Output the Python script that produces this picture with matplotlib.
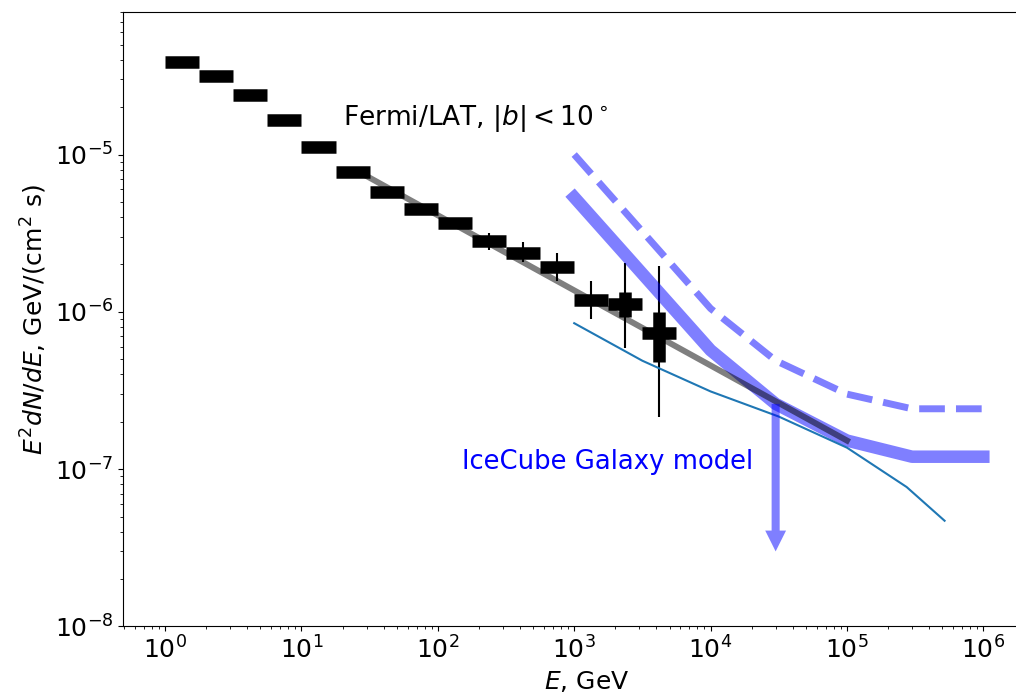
import numpy as np
import matplotlib
matplotlib.use("Agg")
import matplotlib.pyplot as plt

# Fermi/LAT, |b|<10 deg: 4 bins per decade from 1 GeV
bin_edges = [1.0, 1.78, 3.16, 5.62, 10.0, 17.8, 31.6, 56.2, 100.0, 178.0,
             316.0, 562.0, 1000.0, 1780.0, 3160.0, 5620.0]
flux = [3.90e-5, 3.15e-5, 2.39e-5, 1.65e-5, 1.12e-5, 7.8e-6, 5.82e-6, 4.49e-6,
        3.65e-6, 2.82e-6, 2.38e-6, 1.94e-6, 1.19e-6, 1.13e-6, 7.36e-7]
# total (thin) and statistical (thick) vertical errors
tot_lo = [3.90e-5, 3.15e-5, 2.39e-5, 1.65e-5, 1.12e-5, 7.8e-6, 5.82e-6, 4.49e-6,
          3.65e-6, 2.49e-6, 2.06e-6, 1.58e-6, 9.0e-7, 5.93e-7, 2.14e-7]
tot_hi = [3.90e-5, 3.15e-5, 2.39e-5, 1.65e-5, 1.12e-5, 7.8e-6, 5.82e-6, 4.49e-6,
          3.65e-6, 3.19e-6, 2.76e-6, 2.38e-6, 1.57e-6, 2.03e-6, 1.97e-6]
stat_lo = [3.90e-5, 3.15e-5, 2.39e-5, 1.65e-5, 1.12e-5, 7.8e-6, 5.82e-6, 4.49e-6,
           3.65e-6, 2.82e-6, 2.38e-6, 1.94e-6, 1.19e-6, 9.24e-7, 4.79e-7]
stat_hi = [3.90e-5, 3.15e-5, 2.39e-5, 1.65e-5, 1.12e-5, 7.8e-6, 5.82e-6, 4.49e-6,
           3.65e-6, 2.82e-6, 2.38e-6, 1.94e-6, 1.19e-6, 1.33e-6, 9.93e-7]

# power-law fit to Fermi data
fit_e = [30.0, 1.0e5]
fit_f = [7.3e-6, 1.52e-7]

# IceCube Galaxy model (solid) and 2x (dashed)
ic_e = [1e3, 1e4, 3e4, 1e5, 3e5, 1e6]
ic_f = [5.35e-6, 5.7e-7, 2.6e-7, 1.52e-7, 1.2e-7, 1.2e-7]
ic2_f = [1.0e-5, 1.05e-6, 4.9e-7, 3.0e-7, 2.42e-7, 2.42e-7]

# model (thin line)
mod_e = [1e3, 3.16e3, 1e4, 3.16e4, 1e5, 2.74e5, 5.2e5]
mod_f = [8.47e-7, 4.89e-7, 3.12e-7, 2.16e-7, 1.37e-7, 7.7e-8, 4.7e-8]

# upper limit arrow
ul_e = 3e4
ul_top = 2.6e-7
ul_tip = 3e-8

x_major = [1e0, 1e1, 1e2, 1e3, 1e4, 1e5, 1e6]

edges = np.array(bin_edges)
lo, hi = edges[:-1], edges[1:]
ec = np.sqrt(lo * hi)

fig = plt.figure(figsize=(10.16, 6.93), dpi=100)
# right spine lies outside the picture, as in the cropped original
ax = fig.add_axes([0.1214, 0.096, 0.912, 0.886])
ax.spines["right"].set_visible(False)

ax.errorbar(ec, flux, xerr=[ec - lo, hi - ec], fmt="none", ecolor="k", elinewidth=9)
ax.vlines(ec, tot_lo, tot_hi, color="k", lw=1.5)
ax.vlines(ec, stat_lo, stat_hi, color="k", lw=9)

ax.plot(ic_e, ic_f, color="blue", alpha=0.5, lw=9)
ax.plot(ic_e, ic2_f, color="blue", alpha=0.5, lw=5, ls="--")
ax.plot(mod_e, mod_f, color="#1f77b4", lw=1.5)
ax.plot(fit_e, fit_f, color="k", alpha=0.5, lw=4.3)

ax.annotate("", xy=(ul_e, ul_tip), xytext=(ul_e, ul_top),
            arrowprops=dict(arrowstyle="simple,head_length=1.5,head_width=1.5,tail_width=0.58",
                            color="blue", alpha=0.5, lw=0, shrinkA=0, shrinkB=0,
                            mutation_scale=10))

ax.text(20.2, 1.53e-5, r"Fermi/LAT, $|b|<10^\circ$", fontsize=19, va="baseline")
ax.text(150, 1.0e-7, "IceCube Galaxy model", fontsize=18.6, color="blue", va="baseline")

ax.set_xscale("log")
ax.set_yscale("log")
ax.set_xticks(x_major)
ax.set_xlim(0.494, 3.08e6)
ax.set_ylim(1e-8, 8e-5)
ax.tick_params(labelsize=18)
ax.set_xlabel(r"$E$, GeV", fontsize=18)
ax.set_ylabel(r"$E^2dN/dE$, GeV/(cm$^2$ s)", fontsize=18)

fig.savefig("out.png", dpi=100)
